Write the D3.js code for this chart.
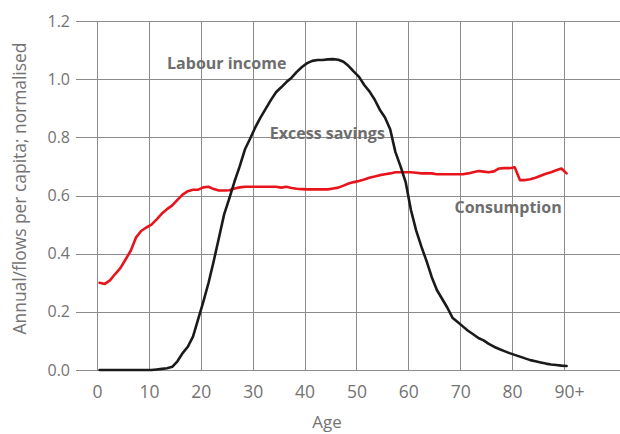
<!DOCTYPE html>
<html>
<head>
<meta charset="utf-8">
<script src="https://cdn.jsdelivr.net/npm/d3@7"></script>
<style>
  html, body { margin: 0; padding: 0; background: #fff; }
  svg { display: block; font-family: "Open Sans", "Noto Sans", sans-serif; }
</style>
</head>
<body>
<svg id="chart" width="620" height="434"></svg>
<script>
// ---- data ----
const ages = d3.range(0, 91);
const xTickValues = [0, 10, 20, 30, 40, 50, 60, 70, 80, 90];
const xTickLabels = ["0", "10", "20", "30", "40", "50", "60", "70", "80", "90+"];
const yTickValues = [0, 0.2, 0.4, 0.6, 0.8, 1.0, 1.2];

const consumption = [
  0.300, 0.296, 0.308, 0.330, 0.350, 0.380, 0.410, 0.455, 0.478, 0.490,
  0.500, 0.518, 0.538, 0.553, 0.566, 0.585, 0.603, 0.615, 0.620, 0.620,
  0.628, 0.630, 0.622, 0.617, 0.617, 0.618, 0.624, 0.628, 0.630, 0.630,
  0.630, 0.630, 0.630, 0.630, 0.630, 0.627, 0.630, 0.626, 0.623, 0.622,
  0.621, 0.621, 0.621, 0.621, 0.621, 0.624, 0.627, 0.634, 0.641, 0.646,
  0.650, 0.655, 0.661, 0.665, 0.670, 0.673, 0.676, 0.680, 0.680, 0.680,
  0.680, 0.678, 0.676, 0.676, 0.676, 0.673, 0.673, 0.673, 0.673, 0.673,
  0.673, 0.676, 0.680, 0.684, 0.682, 0.680, 0.683, 0.693, 0.694, 0.694,
  0.697, 0.653, 0.653, 0.656, 0.661, 0.668, 0.675, 0.680, 0.687, 0.693,
  0.676
];

const labourIncome = [
  0, 0, 0, 0, 0, 0, 0, 0, 0, 0,
  0, 0.002, 0.004, 0.006, 0.011, 0.030, 0.058, 0.080, 0.115, 0.175,
  0.235, 0.300, 0.375, 0.455, 0.535, 0.590, 0.648, 0.700, 0.758, 0.795,
  0.834, 0.868, 0.898, 0.928, 0.955, 0.972, 0.990, 1.005, 1.025, 1.042,
  1.055, 1.063, 1.066, 1.066, 1.068, 1.069, 1.067, 1.060, 1.045, 1.026,
  1.008, 0.980, 0.958, 0.930, 0.895, 0.868, 0.828, 0.750, 0.700, 0.645,
  0.550, 0.480, 0.425, 0.375, 0.320, 0.275, 0.245, 0.215, 0.180, 0.165,
  0.150, 0.135, 0.123, 0.110, 0.102, 0.090, 0.080, 0.072, 0.065, 0.058,
  0.052, 0.046, 0.040, 0.034, 0.030, 0.026, 0.022, 0.019, 0.017, 0.015,
  0.014
];

const annotations = [
  { text: "Labour income", age: 13.5, value: 1.036 },
  { text: "Excess savings", age: 33.3, value: 0.794 },
  { text: "Consumption", age: 68.9, value: 0.54 }
];

// ---- layout ----
const svg = d3.select("#chart");
const plotLeft = 97, plotRight = 564, plotTop = 21, plotBottom = 370;
const gridLeft = 76, gridRight = 620;
const grey = "#737373";
const gridColor = "#8c8c8c";

const x = d3.scaleLinear().domain([0, 90]).range([plotLeft, plotRight]);
const y = d3.scaleLinear().domain([0, 1.2]).range([plotBottom, plotTop]);

// Y axis with horizontal grid lines
const gY = svg.append("g")
  .attr("transform", `translate(${gridRight},0)`)
  .call(d3.axisLeft(y)
    .tickValues(yTickValues)
    .tickSize(gridRight - gridLeft)
    .tickPadding(6)
    .tickFormat(d3.format(".1f")));
gY.select(".domain").remove();
gY.selectAll(".tick line").attr("stroke", gridColor).attr("stroke-width", 1)
  .attr("shape-rendering", "crispEdges");
gY.selectAll(".tick text").attr("fill", grey).attr("font-size", 16)
  .attr("font-family", "'Open Sans', sans-serif");

// X axis with vertical grid lines
const gX = svg.append("g")
  .attr("transform", `translate(0,${plotBottom})`)
  .call(d3.axisBottom(x)
    .tickValues(xTickValues)
    .tickSize(-(plotBottom - plotTop))
    .tickPadding(16)
    .tickFormat((d, i) => xTickLabels[i]));
gX.select(".domain").remove();
gX.selectAll(".tick line").attr("stroke", gridColor).attr("stroke-width", 1)
  .attr("shape-rendering", "crispEdges");
gX.selectAll(".tick text").attr("fill", grey).attr("font-size", 17.5)
  .attr("font-family", "'Open Sans', sans-serif");
gX.selectAll(".tick text").filter((d, i) => xTickLabels[i] === "90+")
  .attr("text-anchor", "start").attr("dx", "-0.57em");

// axis titles
svg.append("text")
  .attr("x", 327).attr("y", 428)
  .attr("text-anchor", "middle")
  .attr("fill", grey).attr("font-size", 17)
  .text("Age");

svg.append("text")
  .attr("transform", "translate(26,188.5) rotate(-90)")
  .attr("text-anchor", "middle")
  .attr("fill", grey).attr("font-size", 17.4)
  .text("Annual/flows per capita; normalised");

// lines (plotted at mid-year)
const line = d3.line()
  .x((d, i) => x(ages[i] + 0.5))
  .y(d => y(d))
  .curve(d3.curveLinear);

svg.append("path")
  .datum(consumption)
  .attr("d", line)
  .attr("fill", "none")
  .attr("stroke", "#e8141c")
  .attr("stroke-width", 2.6)
  .attr("stroke-linejoin", "round")
  .attr("stroke-linecap", "round");

svg.append("path")
  .datum(labourIncome)
  .attr("d", line)
  .attr("fill", "none")
  .attr("stroke", "#1a1a1a")
  .attr("stroke-width", 2.6)
  .attr("stroke-linejoin", "round")
  .attr("stroke-linecap", "round");

// annotations
svg.selectAll(".anno")
  .data(annotations)
  .enter().append("text")
  .attr("class", "anno")
  .attr("x", d => x(d.age))
  .attr("y", d => y(d.value))
  .attr("fill", "#6e6e6e")
  .attr("font-size", 16)
  .attr("font-weight", "bold")
  .text(d => d.text);
</script>
</body>
</html>
